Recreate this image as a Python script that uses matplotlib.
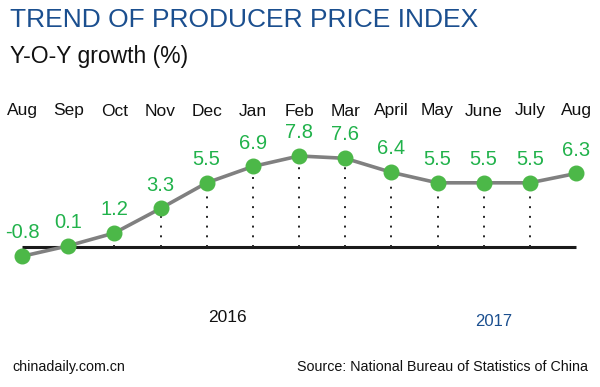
import matplotlib
matplotlib.use("Agg")
import matplotlib.pyplot as plt

months = ["Aug", "Sep", "Oct", "Nov", "Dec", "Jan", "Feb", "Mar", "April", "May", "June", "July", "Aug"]
values = [-0.8, 0.1, 1.2, 3.3, 5.5, 6.9, 7.8, 7.6, 6.4, 5.5, 5.5, 5.5, 6.3]
value_labels = ["-0.8", "0.1", "1.2", "3.3", "5.5", "6.9", "7.8", "7.6", "6.4", "5.5", "5.5", "5.5", "6.3"]
dotted_idx = [2, 3, 4, 5, 6, 7, 8, 9, 10, 11]

plt.rcParams['font.family'] = ['Liberation Sans', 'DejaVu Sans']

W, H = 600, 387
fig = plt.figure(figsize=(6, 3.87), dpi=100)
ax = fig.add_axes([0, 0, 1, 1])
ax.set_axis_off()

# pixel mapping: index 0 -> x=22px, index 12 -> x=576px ; value 0 -> y=247px, 11.67 px/unit
px_x = (576 - 22) / 12
px_y = 11.67
ax.set_xlim(-22 / px_x, 12 + (W - 576) / px_x)
ax.set_ylim((247 - H) / px_y, 247 / px_y)

x = list(range(len(values)))
green_txt = "#21b24b"
green_mk = "#4cb848"

# baseline
ax.plot([0, 12], [0, 0], color="#1a1a1a", lw=2.2, solid_capstyle="butt", zorder=1)
# dotted drops
for i in dotted_idx:
    ax.plot([i, i], [0, values[i]], color="#222222", lw=1.4, ls=(0, (1, 4)), zorder=1)
# main line
ax.plot(x, values, color="#808080", lw=2.6, zorder=2)
ax.plot(x, values, ls="none", marker="o", ms=10.5, mfc=green_mk, mec=green_mk, zorder=3)

for i, (v, lab) in enumerate(zip(values, value_labels)):
    ax.annotate(lab, (i, v), xytext=(0, 10), textcoords="offset points",
                ha="center", va="bottom", color=green_txt, fontsize=14.5)

# month labels
for i, m in enumerate(months):
    ax.text(i, (247 - 111) / px_y, m, ha="center", va="center", fontsize=12.5, color="#111111")

fig.text(10 / W, 1 - 20 / H, "TREND OF PRODUCER PRICE INDEX", ha="left", va="center",
         fontsize=19, color="#1b4f8f")
fig.text(10 / W, 1 - 57 / H, "Y-O-Y growth (%)", ha="left", va="center",
         fontsize=16.5, color="#111111")
fig.text(227 / W, 1 - 318 / H, "2016", ha="center", va="center", fontsize=12.5, color="#111111")
fig.text(494 / W, 1 - 322 / H, "2017", ha="center", va="center", fontsize=12, color="#1b4f8f")
fig.text(12 / W, 1 - 367 / H, "chinadaily.com.cn", ha="left", va="center", fontsize=10.3, color="#111111")
fig.text(588 / W, 1 - 367 / H, "Source: National Bureau of Statistics of China", ha="right", va="center",
         fontsize=10.3, color="#111111")

fig.savefig("out.png", dpi=100, facecolor="white")
